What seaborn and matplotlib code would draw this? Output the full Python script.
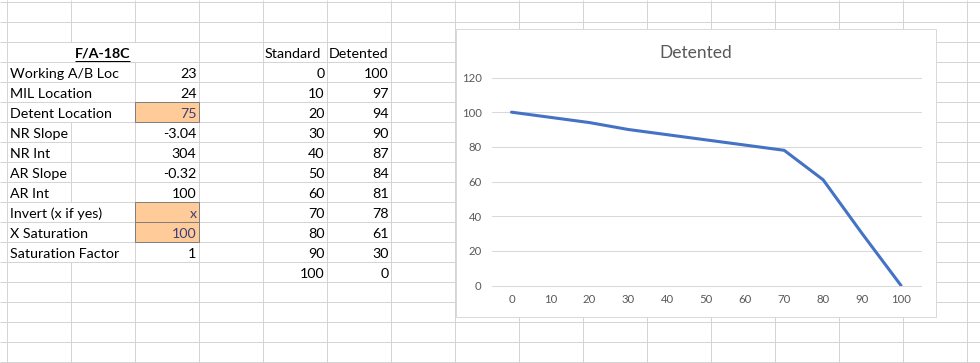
import matplotlib
matplotlib.use("Agg")
import matplotlib.pyplot as plt
import seaborn as sns
import pandas as pd
from matplotlib.patches import Rectangle

# ---------------- data ----------------
table_title = "F/A-18C"
param_labels = ["Working A/B Loc", "MIL Location", "Detent Location", "NR Slope", "NR Int",
                "AR Slope", "AR Int", "Invert (x if yes)", "X Saturation", "Saturation Factor"]
param_values = ["23", "24", "75", "-3.04", "304", "-0.32", "100", "x", "100", "1"]
input_params = ["Detent Location", "Invert (x if yes)", "X Saturation"]
col_headers = ["Standard", "Detented"]
standard = [0, 10, 20, 30, 40, 50, 60, 70, 80, 90, 100]
detented = [100, 97, 94, 90, 87, 84, 81, 78, 61, 30, 0]
chart_title = "Detented"
y_ticks = [0, 20, 40, 60, 80, 100, 120]

# ---------------- figure / sheet ----------------
W, H = 980, 363
sns.set_theme(style="white")
plt.rcParams["font.family"] = ["Lato", "DejaVu Sans"]

fig = plt.figure(figsize=(W / 100, H / 100), dpi=100)
fig.patch.set_facecolor("white")
sheet = fig.add_axes([0, 0, 1, 1])
sheet.set_xlim(0, W)
sheet.set_ylim(H, 0)
sheet.axis("off")

GRID = "#d4d4d4"
PX = 0.72  # one pixel in points
FS = 10.3
col_x = [6.5 + 64 * k for k in range(16)]
row_y = [1.5 + 20 * k for k in range(19)]

renderer = fig.canvas.get_renderer()

# ---- cell texts ----
def base(i):  # baseline of table row i (0 = header row)
    return 41.5 + 20 * i + 16

t = sheet.text(102.5, base(0), table_title, ha="center", va="baseline", fontsize=FS,
               fontweight="bold", color="black", zorder=5)
title_txt = t
hidden = {(1, 2), (2, 2)}
for i, (lab, val) in enumerate(zip(param_labels, param_values), start=1):
    tt = sheet.text(9.5, base(i), lab, ha="left", va="baseline", fontsize=FS, color="black", zorder=5)
    bb = tt.get_window_extent(renderer)
    if bb.x1 > 69:
        hidden.add((1, 2 + i))
    inp = lab in input_params
    if inp:
        sheet.add_patch(Rectangle((134.5, 41.5 + 20 * i), 64, 20, facecolor="#ffcc99",
                                  edgecolor="#7f7f7f", lw=PX, zorder=4))
    sheet.text(196.5, base(i), val, ha="right", va="baseline", fontsize=FS,
               color="#3f3f76" if inp else "black", zorder=5)

sheet.text(265, base(0), col_headers[0], ha="left", va="baseline", fontsize=FS, color="black", zorder=5)
sheet.text(329, base(0), col_headers[1], ha="left", va="baseline", fontsize=FS, color="black", zorder=5)
for i, (s, d) in enumerate(zip(standard, detented), start=1):
    sheet.text(324.5, base(i), str(s), ha="right", va="baseline", fontsize=FS, color="black", zorder=5)
    sheet.text(388.5, base(i), str(d), ha="right", va="baseline", fontsize=FS, color="black", zorder=5)

# ---- grid ----
for y in row_y:
    sheet.plot([0, W], [y, y], color=GRID, lw=PX, zorder=1, solid_capstyle="butt")
bands = [(0, row_y[0])] + [(row_y[k], row_y[k + 1]) for k in range(len(row_y) - 1)] + [(row_y[-1], H)]
for ci, x in enumerate(col_x):
    for bi, (y0, y1) in enumerate(bands):
        if (ci, bi - 1) in hidden:
            continue
        sheet.plot([x, x], [y0, y1], color=GRID, lw=PX, zorder=1, solid_capstyle="butt")

# underline of table title
bb = title_txt.get_window_extent(renderer)
inv = sheet.transData.inverted()
(ux0, _), (ux1, _) = inv.transform([(bb.x0, bb.y0), (bb.x1, bb.y0)])
sheet.plot([ux0, ux1], [60.5, 60.5], color="black", lw=PX, zorder=5, solid_capstyle="butt")

# ---- chart area ----
sheet.add_patch(Rectangle((456, 28.5), 479.5, 288, facecolor="white", edgecolor="#d9d9d9",
                          lw=PX, zorder=6))
sheet.text(695.5, 57.5, chart_title, ha="center", va="baseline", fontsize=12.5,
           color="#595959", zorder=7)

ax = fig.add_axes([492 / W, 1 - 285.5 / H, 428.5 / W, 208 / H])
ax.set_zorder(10)
ax.patch.set_alpha(0)
df = pd.DataFrame({"Standard": standard, "Detented": detented})
sns.lineplot(data=df, x="Standard", y="Detented", ax=ax, color="#4472c4", linewidth=2.2)
for ln in ax.get_lines():
    ln.set_solid_joinstyle("round")
ax.set_xlim(-5, 105)
ax.set_ylim(0, 120)
ax.set_xticks(standard)
ax.set_yticks(y_ticks)
ax.set_xlabel("")
ax.set_ylabel("")
for s in ax.spines.values():
    s.set_visible(False)
ax.grid(axis="y", color="#d9d9d9", lw=0.75)
ax.grid(axis="x", visible=False)
ax.set_axisbelow(True)
for gl in ax.get_ygridlines():
    gl.set_clip_on(False)
ax.tick_params(axis="both", length=0, labelsize=8.2, labelcolor="#595959")
ax.tick_params(axis="y", pad=7.5)
ax.tick_params(axis="x", pad=6)

fig.savefig("out.png", dpi=100, facecolor="white")
